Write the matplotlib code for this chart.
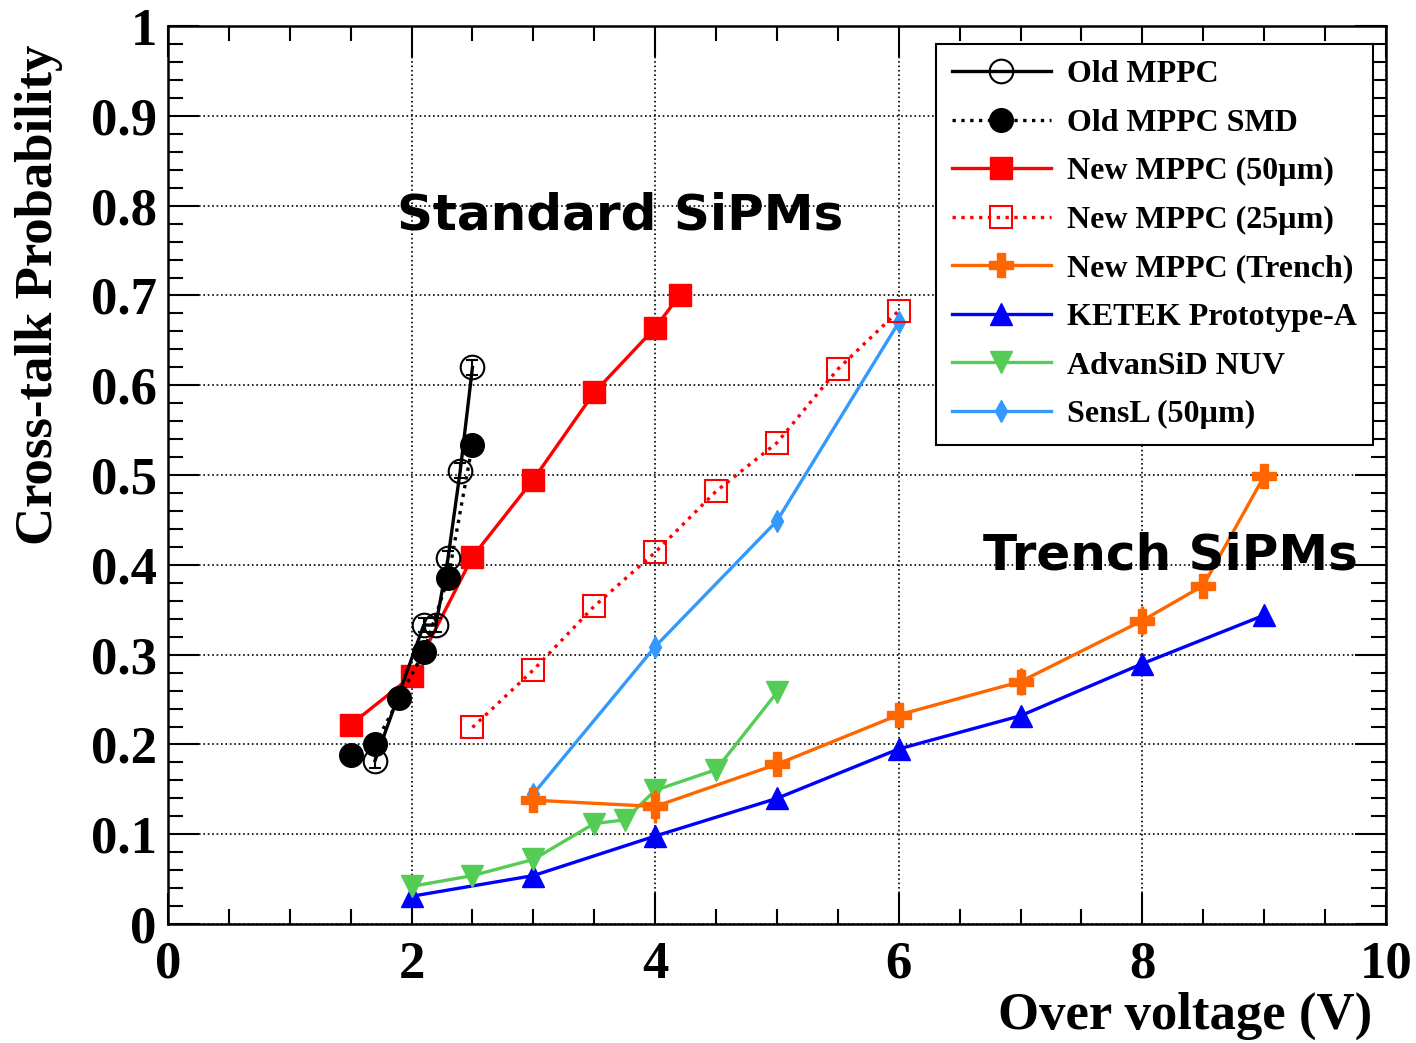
"""
Cross-talk probability vs over voltage for several SiPM types.
"""

import matplotlib
matplotlib.use("Agg")
import matplotlib.pyplot as plt
from matplotlib.ticker import MultipleLocator

# ---- data ----
old_x = [1.7, 2.1, 2.2, 2.3, 2.4, 2.5]
old_y = [0.182, 0.333, 0.333, 0.408, 0.505, 0.62]
old_err = [0.008, 0.008, 0.008, 0.008, 0.008, 0.008]

smd_x = [1.5, 1.7, 1.9, 2.1, 2.3, 2.5]
smd_y = [0.188, 0.200, 0.252, 0.303, 0.385, 0.534]

new50_x = [1.5, 2.0, 2.5, 3.0, 3.5, 4.0, 4.2]
new50_y = [0.222, 0.276, 0.409, 0.495, 0.592, 0.664, 0.700]

new25_x = [2.5, 3.0, 3.5, 4.0, 4.5, 5.0, 5.5, 6.0]
new25_y = [0.219, 0.283, 0.354, 0.414, 0.482, 0.536, 0.618, 0.683]

trench_x = [3.0, 4.0, 5.0, 6.0, 7.0, 8.0, 8.5, 9.0]
trench_y = [0.138, 0.131, 0.178, 0.233, 0.270, 0.338, 0.377, 0.499]
trench_err = [0.010, 0.018, 0.012, 0.012, 0.015, 0.016, 0.012, 0.012]

ketek_x = [2.0, 3.0, 4.0, 5.0, 6.0, 7.0, 8.0, 9.0]
ketek_y = [0.031, 0.054, 0.098, 0.140, 0.195, 0.232, 0.290, 0.344]

nuv_x = [2.0, 2.5, 3.0, 3.5, 3.75, 4.0, 4.5, 5.0]
nuv_y = [0.042, 0.054, 0.072, 0.112, 0.116, 0.149, 0.172, 0.258]

sensl_x = [3.0, 4.0, 5.0, 6.0]
sensl_y = [0.145, 0.309, 0.449, 0.670]

serif = ["Liberation Serif", "DejaVu Serif"]

fig = plt.figure(figsize=(14.16, 10.43), dpi=100)
ax = fig.add_axes([0.1186, 0.114, 0.8602, 0.861])

lw = 2.4
ax.errorbar(old_x, old_y, yerr=old_err, fmt='none', ecolor='black',
            elinewidth=1.5, capsize=4, capthick=1.5, zorder=5)
h_old, = ax.plot(old_x, old_y, '-', color='black', lw=lw, marker='o', ms=17,
                 mfc='none', mec='black', mew=1.5, label='Old MPPC', zorder=5)
h_smd, = ax.plot(smd_x, smd_y, ':', color='black', lw=lw, marker='o', ms=17,
                 mfc='black', mec='black', label='Old MPPC SMD', zorder=6)
h_50, = ax.plot(new50_x, new50_y, '-', color='#ff0000', lw=lw, marker='s', ms=16,
                mfc='#ff0000', mec='#ff0000', label='New MPPC (50\u00b5m)', zorder=4)
h_25, = ax.plot(new25_x, new25_y, ':', color='#ff0000', lw=lw, marker='s', ms=16,
                mfc='none', mec='#ff0000', mew=1.5, label='New MPPC (25\u00b5m)', zorder=4)
ax.errorbar(trench_x, trench_y, yerr=trench_err, fmt='none', ecolor='#ff6600',
            elinewidth=2.5, capsize=0, zorder=4)
h_tr, = ax.plot(trench_x, trench_y, '-', color='#ff6600', lw=lw, marker='P', ms=17,
                mfc='#ff6600', mec='#ff6600', label='New MPPC (Trench)', zorder=4)
h_ke, = ax.plot(ketek_x, ketek_y, '-', color='#0000ff', lw=lw, marker='^', ms=16,
                mfc='#0000ff', mec='#0000ff', label='KETEK Prototype-A', zorder=3)
h_nuv, = ax.plot(nuv_x, nuv_y, '-', color='#55cc55', lw=lw, marker='v', ms=16,
                 mfc='#55cc55', mec='#55cc55', label='AdvanSiD NUV', zorder=3)
h_se, = ax.plot(sensl_x, sensl_y, '-', color='#3399ff', lw=lw, marker='d', ms=11,
                mfc='#3399ff', mec='#3399ff', label='SensL (50\u00b5m)', zorder=3)

ax.set_xlim(0, 10)
ax.set_ylim(0, 1)
ax.xaxis.set_major_locator(MultipleLocator(2))
ax.xaxis.set_minor_locator(MultipleLocator(0.5))
ax.yaxis.set_major_locator(MultipleLocator(0.1))
ax.yaxis.set_minor_locator(MultipleLocator(0.02))
ax.yaxis.set_major_formatter(plt.FuncFormatter(
    lambda v, p: '0' if abs(v) < 1e-9 else ('1' if abs(v - 1) < 1e-9 else f'{v:.1f}')))
ax.xaxis.set_major_formatter(plt.FuncFormatter(lambda v, p: f'{v:g}'))

ax.tick_params(which='both', direction='in', top=True, right=True, width=1.5)
ax.tick_params(which='major', length=22)
ax.tick_params(which='minor', length=11)
ax.tick_params(axis='y', which='major', pad=8)
ax.tick_params(axis='x', which='major', pad=12)
for lab in ax.get_xticklabels() + ax.get_yticklabels():
    lab.set_family(serif)
    lab.set_fontweight('bold')
    lab.set_fontsize(38)
for s in ax.spines.values():
    s.set_linewidth(1.8)

ax.grid(True, which='major', linestyle=':', color='black', lw=1.2)
ax.set_axisbelow(True)

ax.set_ylabel('Cross-talk Probability', family=serif, fontweight='bold',
              fontsize=38, loc='top')
ax.yaxis.set_label_coords(-0.086, 0.979)
ax.set_xlabel('Over voltage (V)', family=serif, fontweight='bold',
              fontsize=38, loc='right')
ax.xaxis.set_label_coords(0.989, -0.075)

handles = [h_old, h_smd, h_50, h_25, h_tr, h_ke, h_nuv, h_se]
leg = ax.legend(handles=handles, loc='upper right', bbox_to_anchor=(0.989, 0.98),
                prop={'family': serif, 'weight': 'bold', 'size': 23},
                frameon=True, fancybox=False, framealpha=1, edgecolor='black',
                handlelength=3.1, labelspacing=0.6, borderpad=0.5,
                handletextpad=0.5, borderaxespad=0, numpoints=1)
leg.get_frame().set_linewidth(1.5)

ax.text(3.71, 0.789, 'Standard SiPMs', fontsize=36, fontweight='bold',
        family='DejaVu Sans', ha='center', va='center')
ax.text(8.23, 0.41, 'Trench SiPMs', fontsize=36, fontweight='bold',
        family='DejaVu Sans', ha='center', va='center', zorder=10)

fig.savefig('out.png', dpi=100)
